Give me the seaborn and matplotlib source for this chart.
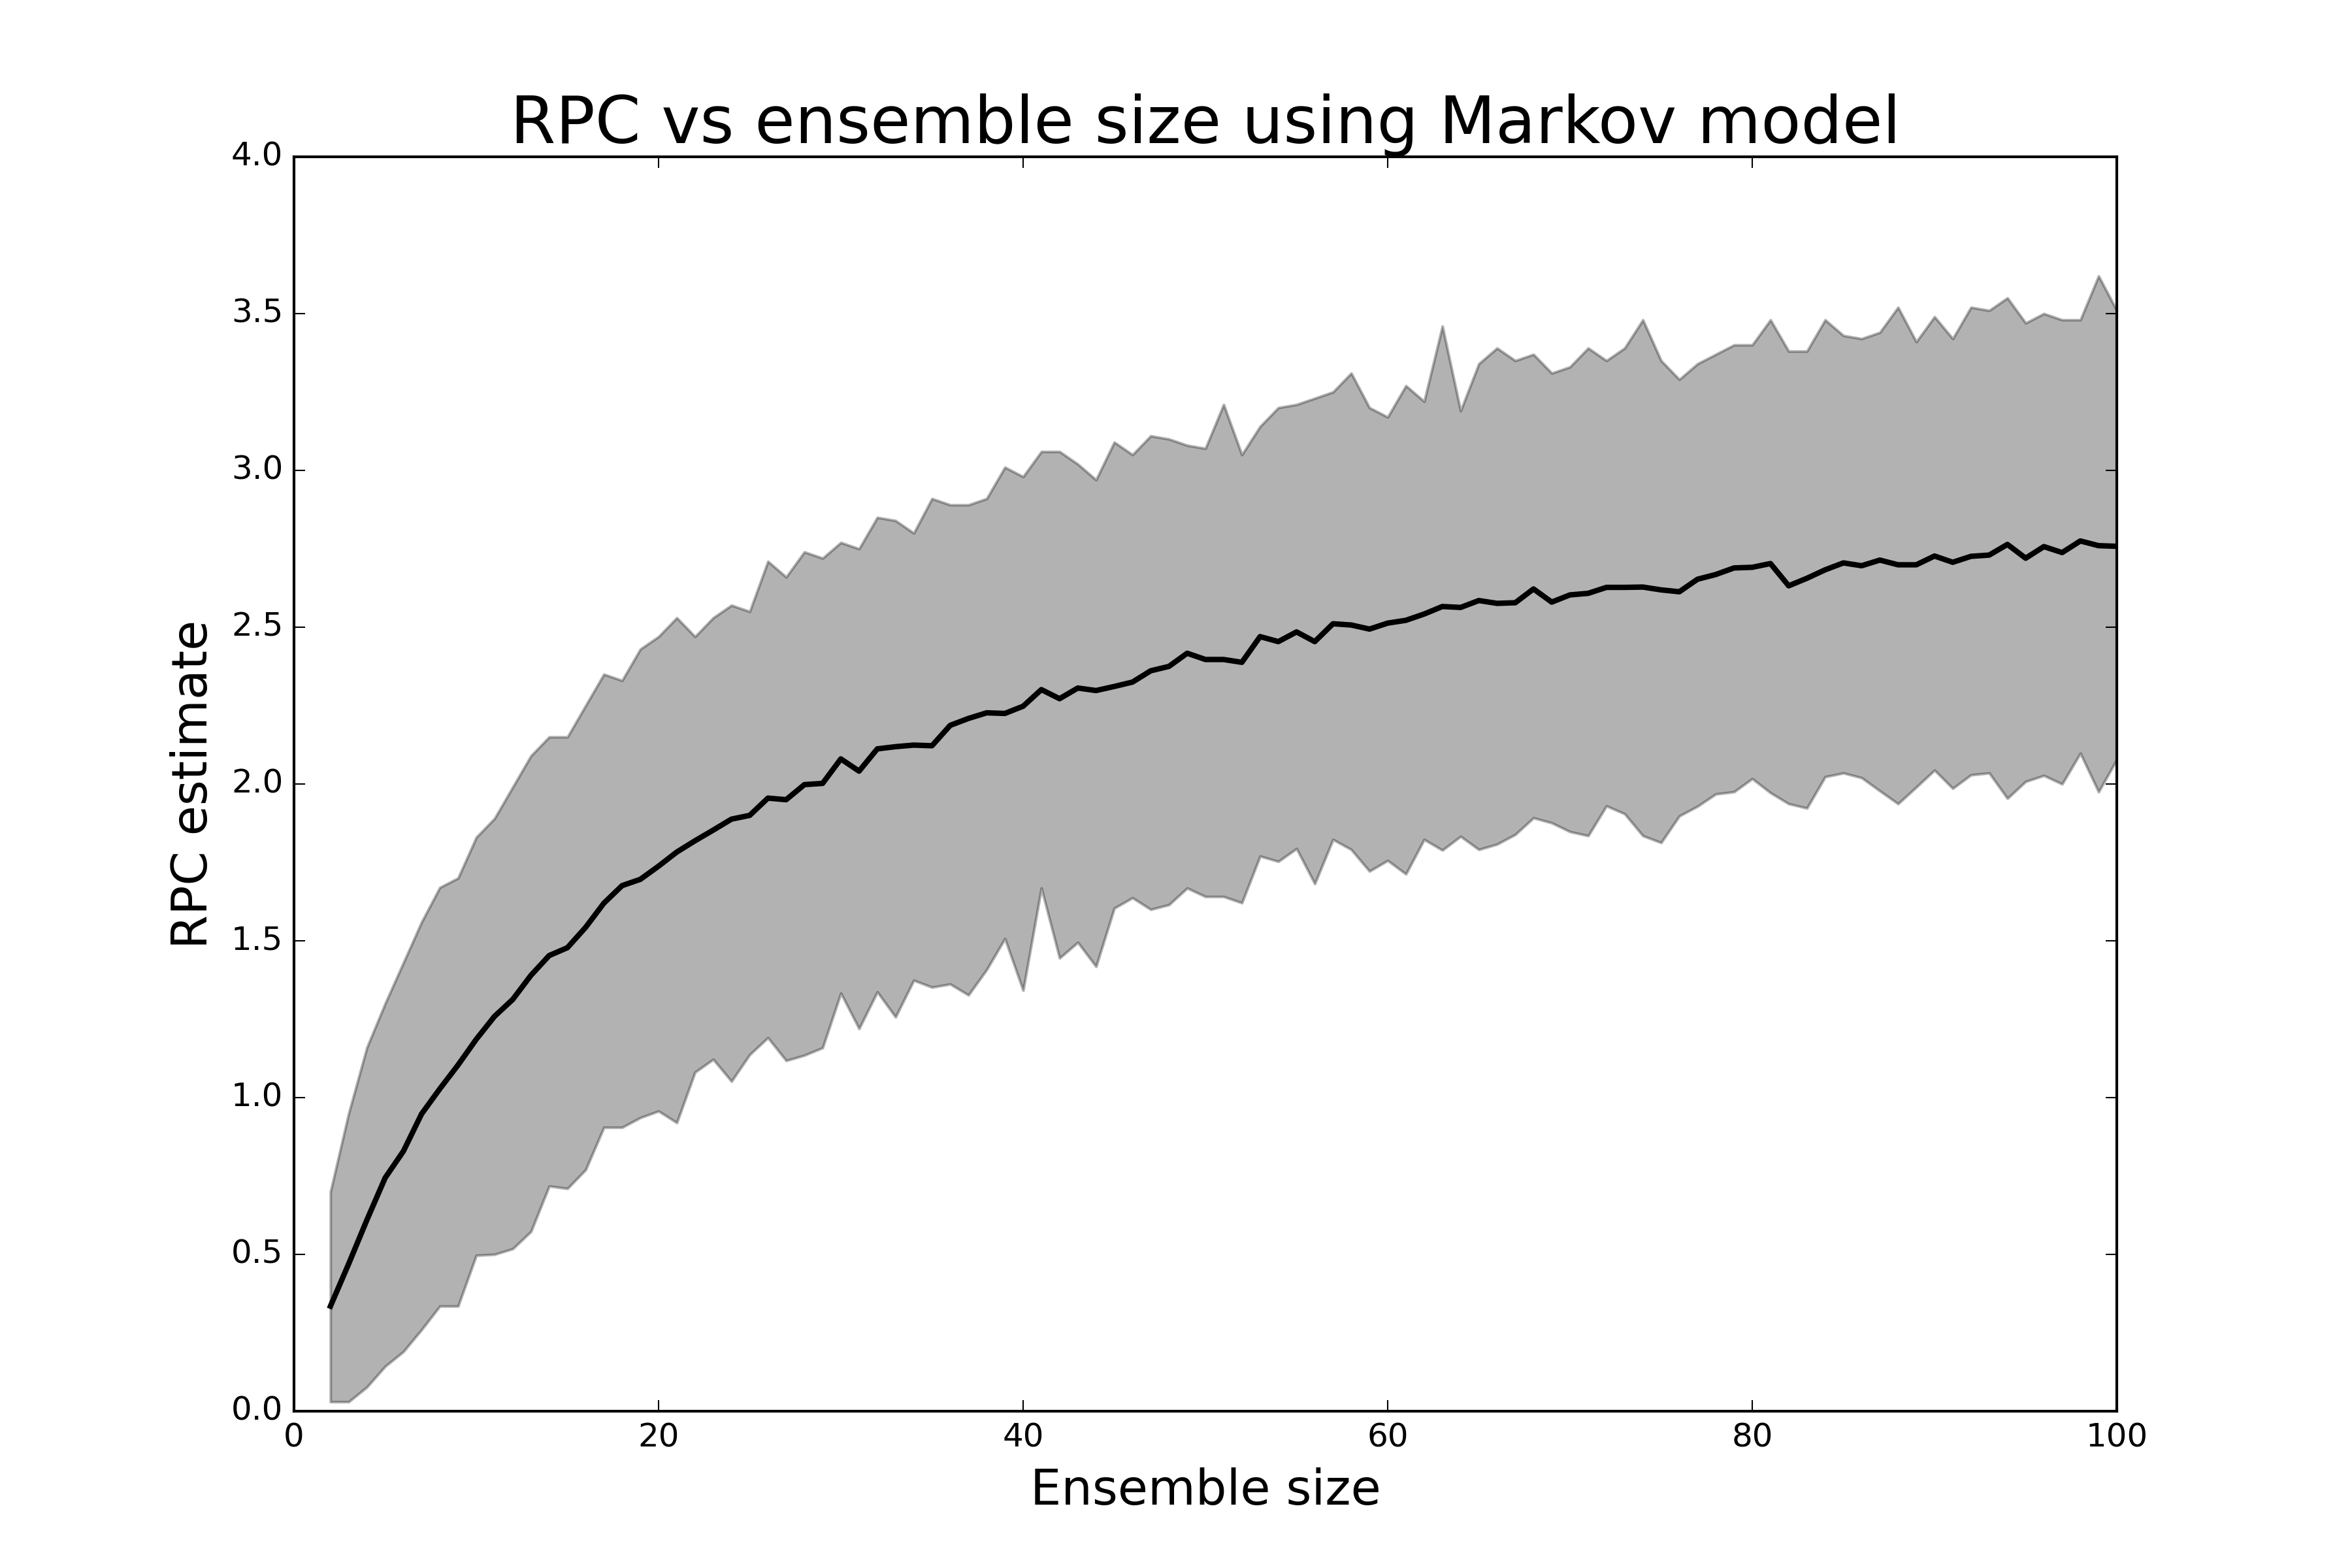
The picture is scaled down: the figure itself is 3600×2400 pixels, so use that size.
import numpy as np
import pandas as pd
import seaborn as sns
import matplotlib
matplotlib.use("Agg")
import matplotlib.pyplot as plt

# Ensemble sizes 2..100
ensemble_size = list(range(2, 101))

# Upper bound of the RPC spread
rpc_upper = [
    0.70, 0.95, 1.16, 1.30, 1.43, 1.56, 1.67, 1.70, 1.83, 1.89, 1.99, 2.09, 2.15, 2.15, 2.25, 2.35, 2.33, 2.43, 2.47,
    2.53, 2.47, 2.53, 2.57, 2.55, 2.71, 2.66, 2.74, 2.72, 2.77, 2.75, 2.85, 2.84, 2.80, 2.91, 2.89, 2.89, 2.91,
    3.01, 2.98, 3.06, 3.06, 3.02, 2.97, 3.09, 3.05, 3.11, 3.10, 3.08, 3.07, 3.21, 3.05, 3.14, 3.20, 3.21, 3.23,
    3.25, 3.31, 3.20, 3.17, 3.27, 3.22, 3.46, 3.19, 3.34, 3.39, 3.35, 3.37, 3.31, 3.33, 3.39, 3.35, 3.39, 3.48,
    3.35, 3.29, 3.34, 3.37, 3.40, 3.40, 3.48, 3.38, 3.38, 3.48, 3.43, 3.42, 3.44, 3.52, 3.41, 3.49, 3.42, 3.52,
    3.51, 3.55, 3.47, 3.50, 3.48, 3.48, 3.62, 3.51,
]

# Mean RPC estimate
rpc_mean = [
    0.335, 0.47, 0.61, 0.744, 0.829, 0.948, 1.028, 1.104, 1.186, 1.259, 1.313, 1.390, 1.453, 1.478, 1.543, 1.620, 1.676, 1.696, 1.738,
    1.783, 1.819, 1.853, 1.888, 1.900, 1.955, 1.950, 1.998, 2.002, 2.080, 2.041, 2.112, 2.119, 2.124, 2.122, 2.187, 2.209, 2.227,
    2.225, 2.248, 2.301, 2.272, 2.306, 2.298, 2.311, 2.325, 2.361, 2.375, 2.417, 2.397, 2.397, 2.388, 2.470, 2.454, 2.485, 2.454,
    2.511, 2.507, 2.494, 2.513, 2.522, 2.542, 2.566, 2.563, 2.585, 2.576, 2.578, 2.622, 2.580, 2.603, 2.608, 2.627, 2.627, 2.628,
    2.619, 2.613, 2.653, 2.668, 2.689, 2.691, 2.703, 2.632, 2.656, 2.683, 2.705, 2.696, 2.714, 2.699, 2.699, 2.727, 2.707, 2.726,
    2.730, 2.764, 2.720, 2.757, 2.738, 2.775, 2.760, 2.758,
]

# Lower bound of the RPC spread
rpc_lower = [
    0.03, 0.03, 0.077, 0.143, 0.19, 0.26, 0.335, 0.335, 0.497, 0.50, 0.518, 0.573, 0.718, 0.71, 0.77, 0.905, 0.905, 0.936, 0.957,
    0.920, 1.081, 1.122, 1.052, 1.137, 1.191, 1.118, 1.135, 1.159, 1.333, 1.220, 1.337, 1.257, 1.374, 1.352, 1.362, 1.327, 1.408,
    1.507, 1.342, 1.668, 1.445, 1.495, 1.418, 1.604, 1.637, 1.600, 1.615, 1.668, 1.641, 1.641, 1.621, 1.770, 1.753, 1.794, 1.682,
    1.823, 1.791, 1.722, 1.756, 1.713, 1.823, 1.789, 1.833, 1.791, 1.808, 1.839, 1.892, 1.876, 1.848, 1.835, 1.930, 1.905, 1.835,
    1.813, 1.898, 1.929, 1.968, 1.975, 2.017, 1.972, 1.937, 1.923, 2.023, 2.035, 2.020, 1.978, 1.937, 1.990, 2.044, 1.986, 2.029,
    2.035, 1.954, 2.008, 2.027, 2.000, 2.098, 1.975, 2.078,
]

df = pd.DataFrame({
    "size": ensemble_size,
    "mean": rpc_mean,
    "lower": rpc_lower,
    "upper": rpc_upper,
})

# Old-school matplotlib look
plt.style.use("classic")

fig, ax = plt.subplots(figsize=(12, 8), dpi=300)
fig.patch.set_facecolor("white")

# Spread band
ax.fill_between(df["size"], df["lower"], df["upper"], color="k", alpha=0.3, linewidth=1.0)

# Mean line
sns.lineplot(data=df, x="size", y="mean", ax=ax, color="k", linewidth=2)

ax.set_xlim(0, 100)
ax.set_ylim(0, 4)
ax.set_xticks([0, 20, 40, 60, 80, 100])
ax.set_yticks(np.arange(0, 4.01, 0.5))

ax.set_title("RPC vs ensemble size using Markov model", fontsize=24, pad=5)
ax.set_xlabel("Ensemble size", fontsize=18)
ax.set_ylabel("RPC estimate", fontsize=18)

plt.savefig("out.png", dpi=300, facecolor="white")
